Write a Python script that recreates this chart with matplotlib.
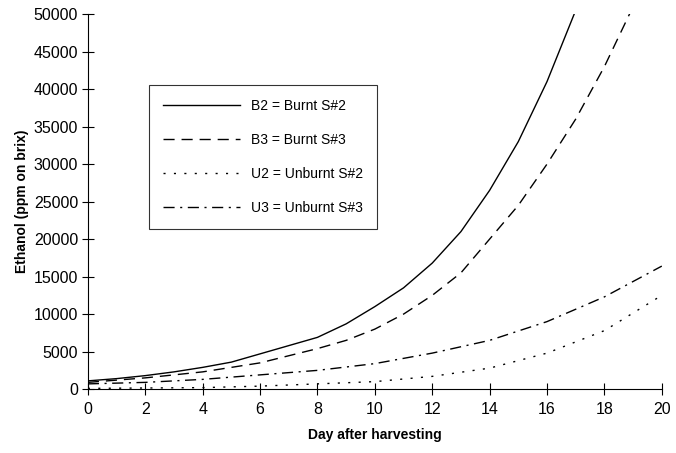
import numpy as np
import matplotlib
matplotlib.use("Agg")
from matplotlib import pyplot as plt

# values
days = [0, 1, 2, 3, 4, 5, 6, 7, 8, 9, 10, 11, 12, 13, 14, 15, 16, 17]
b2 = [1100, 1400, 1800, 2300, 2900, 3600, 4700, 5800, 6900, 8700, 11000, 13500, 16800, 21000,
      26500, 33000, 41000, 50500]

days_b3 = [0, 2, 4, 6, 8, 9, 10, 11, 12, 13, 14, 15, 16, 17, 18, 19]
b3 = [900, 1500, 2300, 3500, 5400, 6500, 8000, 10000, 12500, 15500, 20000, 24500, 30000, 36000,
      43000, 51000]

days_u = [0, 2, 4, 6, 8, 10, 12, 14, 16, 18, 20]
u2 = [100, 150, 200, 400, 700, 1000, 1700, 2800, 4800, 7800, 12500]
u3 = [700, 900, 1300, 1900, 2500, 3400, 4800, 6500, 9000, 12300, 16400]

plt.rcParams['font.family'] = ['Liberation Sans', 'DejaVu Sans']

fig = plt.figure(figsize=(6.76, 4.53), dpi=100)
ax = fig.add_axes([0.130, 0.141, 0.849, 0.828])

ax.plot(days, b2, color='black', lw=1.0, ls='-', label='B2 = Burnt S#2')
ax.plot(days_b3, b3, color='black', lw=1.0, ls=(0, (8, 5)), label='B3 = Burnt S#3')
ax.plot(days_u, u2, color='black', lw=1.0, ls=(0, (1.5, 6)), label='U2 = Unburnt S#2')
ax.plot(days_u, u3, color='black', lw=1.0, ls=(0, (8, 4, 1.5, 4)), label='U3 = Unburnt S#3')

ax.set_xlim(0, 20)
ax.set_ylim(0, 50000)
ax.set_xticks(range(0, 21, 2))
ax.set_yticks(range(0, 50001, 5000))
ax.spines['top'].set_visible(False)
ax.spines['right'].set_visible(False)
ax.spines['left'].set_linewidth(0.8)
ax.spines['bottom'].set_linewidth(0.8)
ax.tick_params(direction='inout', length=8, width=0.8, labelsize=11.5, pad=3)
ax.tick_params(axis='x', pad=5)

ax.set_xlabel('Day after harvesting', fontsize=10, fontweight='bold', labelpad=8)
ax.set_ylabel('Ethanol (ppm on brix)', fontsize=10, fontweight='bold', labelpad=3)

leg = ax.legend(loc='upper left', bbox_to_anchor=(0.095, 0.83), fontsize=10,
                handlelength=5.5, labelspacing=1.45, borderpad=1.0,
                fancybox=False, frameon=True, edgecolor='black')
leg.get_frame().set_linewidth(0.8)

fig.savefig('out.png', dpi=100)
